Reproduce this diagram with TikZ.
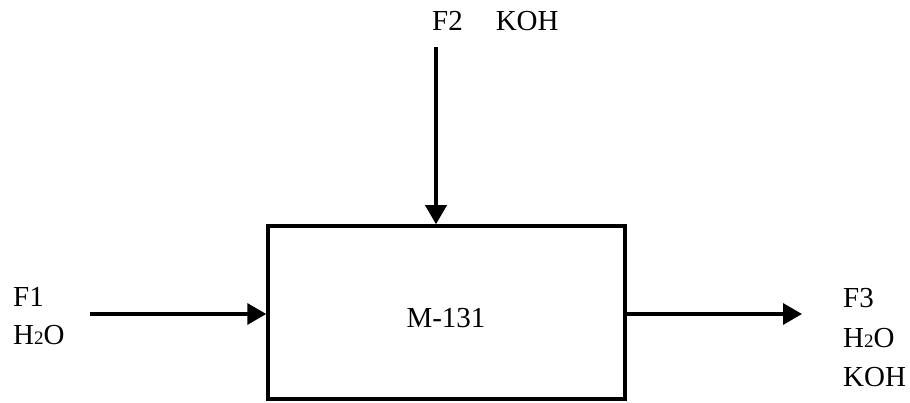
\documentclass[tikz,border=0pt]{standalone}
\usepackage{fontspec}
\setmainfont{Liberation Serif}
\usetikzlibrary{arrows.meta}
\newcommand{\subtwo}{{\fontsize{19pt}{19pt}\selectfont 2}}
\begin{document}
\begin{tikzpicture}[x=1pt,y=-1pt,
  every node/.style={font=\fontsize{29pt}{39pt}\selectfont, inner sep=0pt},
  unitbox/.style={draw, line width=3.5pt, minimum width=357pt, minimum height=173pt},
  flow/.style={line width=3.5pt, -{Triangle[length=19pt,width=21pt]}},
  lbl/.style={anchor=base west, align=left}]
\useasboundingbox (0,0) rectangle (910,403);
\node[unitbox] (box) at (446.5,312.5) {};
\node (m131) at (446,318) {M-131};
\coordinate (inL) at (90,314);
\coordinate (outR) at (802,314);
\coordinate (inT) at (436,47);
\draw[flow] (inL) -- (inL -| box.west);
\draw[flow] (outR -| box.east) -- (outR);
\draw[flow] (inT) -- (inT |- box.north);
\node[lbl] (f2) at (432,31) {F2\hspace{33pt}KOH};
\node[lbl] (f1) at (13,306) {F1};
\node[lbl] (f1w) at (13,344) {H\subtwo O};
\node[lbl] (f3) at (843,308) {F3};
\node[lbl] (f3w) at (843,347) {H\subtwo O};
\node[lbl] (f3k) at (843,386) {KOH};
\end{tikzpicture}
\end{document}
